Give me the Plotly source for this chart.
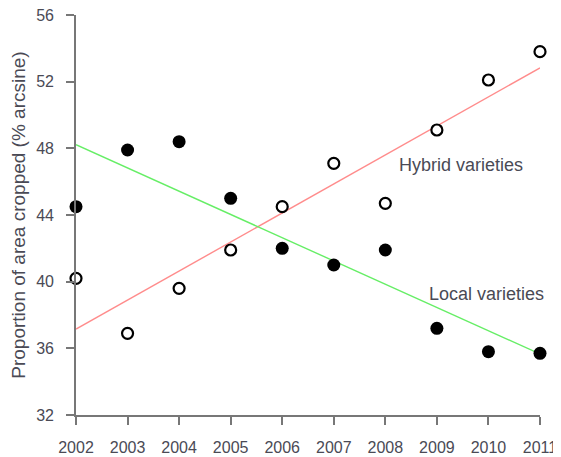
import numpy as np
import plotly.graph_objects as go

years = [2002, 2003, 2004, 2005, 2006, 2007, 2008, 2009, 2010, 2011]
hybrid = [40.2, 36.9, 39.6, 41.9, 44.5, 47.1, 44.7, 49.1, 52.1, 53.8]
local = [44.5, 47.9, 48.4, 45.0, 42.0, 41.0, 41.9, 37.2, 35.8, 35.7]
y_ticks = [32, 36, 40, 44, 48, 52, 56]
y_title = "Proportion of area cropped (% arcsine)"
label_hybrid = "Hybrid varieties"
label_local = "Local varieties"

x = np.array(years, dtype=float)
bh = np.polyfit(x, hybrid, 1)
bl = np.polyfit(x, local, 1)
fit_x = [years[0], years[-1]]

FONT = "Liberation Sans, Arial, sans-serif"
TXT = "#4a4a55"
AX = "#777777"

fig = go.Figure()
fig.add_trace(go.Scatter(x=fit_x, y=np.polyval(bh, fit_x), mode="lines",
                         line=dict(color="#ff8c8c", width=1.4), cliponaxis=False))
fig.add_trace(go.Scatter(x=fit_x, y=np.polyval(bl, fit_x), mode="lines",
                         line=dict(color="#66ee66", width=1.4), cliponaxis=False))
fig.add_trace(go.Scatter(x=years, y=hybrid, mode="markers", cliponaxis=False,
                         marker=dict(symbol="circle", size=11, color="white",
                                     line=dict(color="black", width=2.2))))
fig.add_trace(go.Scatter(x=years, y=local, mode="markers", cliponaxis=False,
                         marker=dict(symbol="circle", size=13, color="black",
                                     line=dict(color="black", width=0))))

fig.add_annotation(x=2008.23, y=47.0, text=label_hybrid, showarrow=False,
                   xanchor="left", yanchor="middle",
                   font=dict(family=FONT, size=18, color=TXT))
fig.add_annotation(x=2008.81, y=39.26, text=label_local, showarrow=False,
                   xanchor="left", yanchor="middle",
                   font=dict(family=FONT, size=18, color=TXT))

# page body has an 8px default margin; size the figure to fit the 561x457 window
fig.update_layout(
    width=553, height=449,
    margin=dict(l=68, r=21, t=7, b=42),
    paper_bgcolor="white", plot_bgcolor="white",
    showlegend=False,
    font=dict(family=FONT, size=16, color=TXT),
)
fig.update_xaxes(range=[2002, 2011], tickvals=years, ticktext=[str(y) for y in years],
                 automargin=False, ticklabeloverflow="allow",
                 showgrid=False, zeroline=False, showline=True, linecolor=AX, linewidth=1.6,
                 ticks="outside", ticklen=8, tickcolor=AX, tickwidth=1.6,
                 ticklabelstandoff=9, tickfont=dict(size=16, color=TXT))
fig.update_yaxes(range=[32, 56], tickvals=y_ticks, automargin=False,
                 ticklabeloverflow="allow",
                 showgrid=False, zeroline=False, showline=True, linecolor=AX, linewidth=1.6,
                 ticks="outside", ticklen=8, tickcolor=AX, tickwidth=1.6,
                 ticklabelstandoff=9, tickfont=dict(size=16, color=TXT),
                 title=dict(text=y_title, font=dict(size=19, color=TXT), standoff=7))

fig.write_html("out.html")
